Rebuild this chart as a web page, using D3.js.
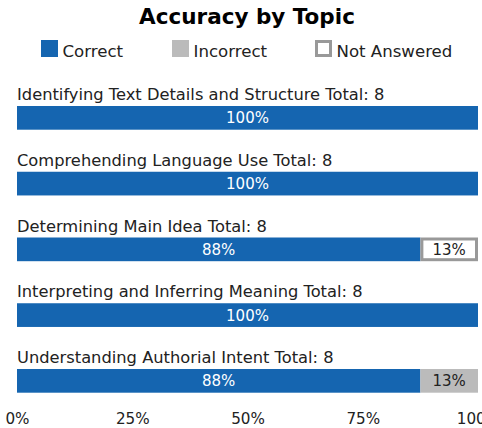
<!DOCTYPE html>
<html>
<head>
<meta charset="utf-8">
<script src="https://cdn.jsdelivr.net/npm/d3@7"></script>
<style>
  body { margin: 0; background: #fff; }
  svg { font-family: "DejaVu Sans", Verdana, sans-serif; }
</style>
</head>
<body>
<div id="chart"></div>
<script>
const topics = [
  "Identifying Text Details and Structure",
  "Comprehending Language Use",
  "Determining Main Idea",
  "Interpreting and Inferring Meaning",
  "Understanding Authorial Intent"
];
const totals = [8, 8, 8, 8, 8];
const correct = [8, 8, 7, 8, 7];
const incorrect = [0, 0, 0, 0, 1];
const notAnswered = [0, 0, 1, 0, 0];
const tickValues = [0, 0.25, 0.5, 0.75, 1];

const seriesNames = ["Correct", "Incorrect", "Not Answered"];
const colors = { fill: ["#1565b0", "#bbbbbb", "#ffffff"], stroke: [null, null, "#999999"] };

const width = 482, height = 428;
const svg = d3.select("#chart").append("svg")
  .attr("width", width).attr("height", height);

svg.append("text")
  .attr("x", 247).attr("y", 24)
  .attr("text-anchor", "middle")
  .attr("font-size", 21.5).attr("font-weight", "bold")
  .text("Accuracy by Topic");

// legend
const legendX = [41, 172, 315];
const legend = svg.append("g").selectAll("g")
  .data(seriesNames)
  .join("g")
  .attr("transform", (d, i) => `translate(${legendX[i]},40)`);
legend.append("rect")
  .attr("x", (d, i) => i == 2 ? 1.5 : 0).attr("y", (d, i) => i == 2 ? 1.5 : 0)
  .attr("width", (d, i) => i == 2 ? 14 : 17).attr("height", (d, i) => i == 2 ? 14 : 17)
  .attr("fill", (d, i) => colors.fill[i])
  .attr("stroke", (d, i) => colors.stroke[i])
  .attr("stroke-width", 3);
legend.append("text")
  .attr("x", 21.5).attr("y", 17.3)
  .attr("font-size", 16.6).attr("fill", "#222")
  .text(d => d);

const x = d3.scaleLinear().domain([0, 1]).range([17, 478]);
const step = 65.75, barH = 23.7;
const y = d3.scaleBand().domain(topics).range([106, 106 + step * topics.length]).paddingInner(0).paddingOuter(0);

const rows = topics.map((t, i) => {
  const segs = [correct[i], incorrect[i], notAnswered[i]];
  let acc = 0;
  return segs.map((v, k) => {
    const s = { key: k, x0: acc / totals[i], x1: (acc + v) / totals[i], v, total: totals[i] };
    acc += v;
    return s;
  }).filter(s => s.v > 0);
});

const g = svg.append("g").selectAll("g")
  .data(topics)
  .join("g")
  .attr("transform", d => `translate(0,${y(d)})`);

g.append("text")
  .attr("x", 17).attr("y", -6)
  .attr("font-size", 16.3).attr("fill", "#222")
  .text((d, i) => `${d} Total: ${totals[i]}`);

const seg = g.selectAll("g.seg")
  .data((d, i) => rows[i])
  .join("g").attr("class", "seg");

seg.append("rect")
  .attr("x", d => d.key == 2 ? x(d.x0) + 1.5 : x(d.x0))
  .attr("y", d => d.key == 2 ? 1.5 : 0)
  .attr("width", d => d.key == 2 ? x(d.x1) - x(d.x0) - 3 : x(d.x1) - x(d.x0))
  .attr("height", d => d.key == 2 ? barH - 3 : barH)
  .attr("fill", d => colors.fill[d.key])
  .attr("stroke", d => colors.stroke[d.key])
  .attr("stroke-width", 3);

seg.append("text")
  .attr("x", d => (x(d.x0) + x(d.x1)) / 2)
  .attr("y", barH / 2 + 5.5)
  .attr("text-anchor", "middle")
  .attr("font-size", 15)
  .attr("fill", d => d.key == 0 ? "#fff" : "#222")
  .text(d => Math.round(d.v / d.total * 100) + "%");

// axis
const axis = d3.axisBottom(x).tickValues(tickValues).tickSize(0).tickPadding(0)
  .tickFormat(d3.format(".0%"));
const ax = svg.append("g").attr("transform", "translate(0,424)").call(axis);
ax.select(".domain").remove();
ax.selectAll("text").attr("font-size", 15.2).attr("fill", "#222")
  .attr("font-family", "DejaVu Sans, Verdana, sans-serif").attr("dy", 0).attr("y", 0);
</script>
</body>
</html>
